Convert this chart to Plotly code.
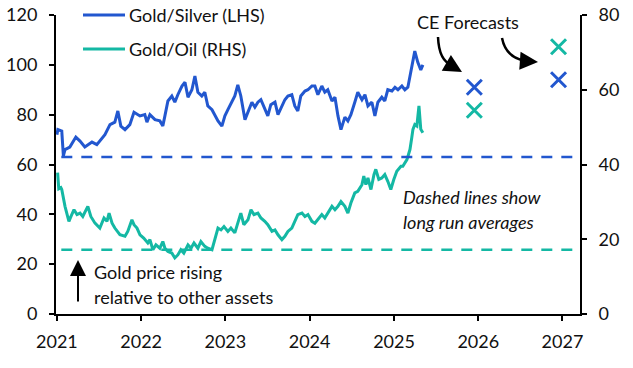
import plotly.graph_objects as go

# ---------------- data ----------------
GS_DATES = [
    "2021-01-01", "2021-01-05", "2021-01-22", "2021-01-29", "2021-02-05", "2021-02-26",
    "2021-03-24", "2021-04-11", "2021-05-02", "2021-05-15", "2021-06-02", "2021-06-23",
    "2021-07-06", "2021-07-28", "2021-08-19", "2021-09-09", "2021-09-22", "2021-10-05",
    "2021-10-23", "2021-11-13", "2021-12-01", "2021-12-27", "2022-01-17", "2022-01-26",
    "2022-02-08", "2022-03-02", "2022-03-23", "2022-04-05", "2022-04-14", "2022-04-27",
    "2022-05-14", "2022-05-27", "2022-06-09", "2022-06-27", "2022-07-10", "2022-07-23",
    "2022-08-09", "2022-08-22", "2022-09-04", "2022-09-21", "2022-10-04", "2022-10-17",
    "2022-11-04", "2022-11-17", "2022-11-30", "2022-12-17", "2022-12-30", "2023-01-12",
    "2023-01-29", "2023-02-11", "2023-02-24", "2023-03-09", "2023-03-27", "2023-04-09",
    "2023-04-26", "2023-05-09", "2023-05-22", "2023-06-04", "2023-06-21", "2023-07-04",
    "2023-07-17", "2023-08-04", "2023-08-17", "2023-09-03", "2023-09-16", "2023-09-29",
    "2023-10-16", "2023-10-29", "2023-11-11", "2023-11-24", "2023-12-12", "2023-12-25",
    "2024-01-11", "2024-01-24", "2024-02-06", "2024-02-23", "2024-03-07", "2024-03-20",
    "2024-04-07", "2024-04-20", "2024-05-03", "2024-05-16", "2024-06-02", "2024-06-15",
    "2024-06-28", "2024-07-15", "2024-07-28", "2024-08-15", "2024-08-28", "2024-09-10",
    "2024-09-27", "2024-10-10", "2024-10-23", "2024-11-09", "2024-11-22", "2024-12-05",
    "2024-12-23", "2025-01-05", "2025-01-18", "2025-02-04", "2025-02-17", "2025-03-02",
    "2025-03-15", "2025-03-24", "2025-04-01", "2025-04-14", "2025-04-27", "2025-05-06",
]
GS_VALUES = [
    72.0, 74.0, 73.4, 63.5, 66.0, 67.0,
    71.0, 69.4, 67.0, 68.0, 69.0, 68.0,
    69.4, 72.0, 76.0, 77.0, 81.5, 75.4,
    74.0, 76.0, 81.0, 79.5, 80.0, 77.0,
    80.0, 78.0, 77.5, 75.5, 79.5, 85.5,
    87.5, 85.0, 88.0, 91.5, 93.0, 87.0,
    90.0, 95.5, 89.0, 87.5, 89.0, 83.5,
    82.0, 79.5, 77.5, 75.4, 79.5, 82.0,
    85.5, 87.5, 92.0, 87.5, 78.0, 81.0,
    85.0, 83.0, 85.0, 86.0, 82.0, 79.5,
    84.0, 85.0, 80.0, 83.5, 86.0, 87.5,
    88.0, 83.5, 81.5, 87.5, 89.5, 90.0,
    91.5, 91.5, 88.0, 91.5, 89.0, 90.0,
    85.5, 87.0, 79.5, 74.0, 79.0, 77.5,
    80.0, 85.0, 89.0, 86.0, 88.0, 83.5,
    85.0, 79.5, 85.0, 87.0, 85.5, 90.0,
    89.5, 91.0, 90.0, 91.5, 90.0, 91.0,
    97.0, 101.0, 105.5, 101.0, 98.0, 100.0,
]

GO_DATES = [
    "2021-01-04", "2021-01-09", "2021-01-18", "2021-01-22", "2021-02-05", "2021-02-13",
    "2021-02-22", "2021-03-03", "2021-03-16", "2021-03-29", "2021-04-11", "2021-04-23",
    "2021-05-15", "2021-05-28", "2021-06-15", "2021-07-06", "2021-07-24", "2021-08-06",
    "2021-08-15", "2021-08-28", "2021-09-09", "2021-10-01", "2021-10-23", "2021-11-04",
    "2021-11-22", "2021-12-01", "2021-12-14", "2021-12-27", "2022-01-12", "2022-01-30",
    "2022-02-08", "2022-02-21", "2022-03-06", "2022-03-23", "2022-04-05", "2022-04-14",
    "2022-04-27", "2022-05-14", "2022-05-27", "2022-06-09", "2022-06-22", "2022-07-05",
    "2022-07-23", "2022-08-05", "2022-08-18", "2022-09-04", "2022-09-17", "2022-10-04",
    "2022-10-17", "2022-11-04", "2022-11-17", "2022-11-30", "2022-12-13", "2022-12-26",
    "2023-01-12", "2023-01-25", "2023-02-11", "2023-02-24", "2023-03-09", "2023-03-22",
    "2023-04-09", "2023-04-22", "2023-05-05", "2023-05-22", "2023-06-04", "2023-06-21",
    "2023-07-04", "2023-07-22", "2023-08-04", "2023-08-17", "2023-09-03", "2023-09-16",
    "2023-09-29", "2023-10-16", "2023-10-29", "2023-11-11", "2023-11-29", "2023-12-12",
    "2023-12-25", "2024-01-11", "2024-01-24", "2024-02-06", "2024-02-23", "2024-03-07",
    "2024-03-20", "2024-04-07", "2024-04-20", "2024-05-03", "2024-05-16", "2024-06-02",
    "2024-06-15", "2024-06-28", "2024-07-15", "2024-07-28", "2024-08-15", "2024-08-23",
    "2024-09-01", "2024-09-10", "2024-09-23", "2024-10-06", "2024-10-14", "2024-10-27",
    "2024-11-09", "2024-11-22", "2024-12-05", "2024-12-18", "2024-12-31", "2025-01-13",
    "2025-01-31", "2025-02-08", "2025-02-26", "2025-03-11", "2025-03-19", "2025-03-24",
    "2025-04-01", "2025-04-10", "2025-04-19", "2025-04-27", "2025-05-06",
]
GO_VALUES = [
    37.8, 33.5, 33.8, 33.3, 28.8, 27.0,
    24.8, 26.1, 27.9, 26.6, 27.0, 26.1,
    28.8, 26.1, 24.3, 23.0, 25.7, 24.8,
    27.0, 24.3, 23.0, 21.2, 20.8, 22.1,
    25.2, 23.9, 23.0, 21.2, 20.3, 19.0,
    19.9, 17.2, 18.5, 17.6, 19.4, 17.6,
    16.7, 16.3, 15.0, 15.8, 17.2, 16.3,
    18.5, 17.6, 19.0, 17.6, 19.4, 18.1,
    17.6, 17.2, 19.9, 23.0, 22.5, 23.4,
    22.1, 23.0, 21.7, 24.3, 27.0, 23.9,
    25.2, 27.9, 26.6, 27.0, 25.7, 24.8,
    23.9, 22.1, 22.5, 21.2, 19.9, 20.8,
    22.1, 23.0, 24.8, 26.6, 27.0, 26.1,
    26.6, 24.8, 24.3, 25.2, 26.6, 25.7,
    27.0, 28.8, 27.9, 28.8, 30.1, 28.8,
    27.0, 29.7, 32.4, 32.8, 34.6, 36.9,
    34.6, 36.4, 33.3, 37.3, 38.7, 36.0,
    36.4, 37.3, 35.5, 33.3, 36.0, 38.2,
    39.5, 39.5, 41.3, 44.0, 47.2, 49.4,
    50.7, 50.3, 55.7, 49.4, 48.5,
]

FC_DATES = ["2025-12-15", "2026-12-15"]
GS_FORECAST = [91.0, 94.0]
GO_FORECAST = [54.5, 71.5]

GS_LONG_RUN_AVG = 63.0
GO_LONG_RUN_AVG = 17.2
AVG_START = "2021-01-20"

YEAR_TICKS = ["2021-01-01", "2022-01-01", "2023-01-01", "2024-01-01",
              "2025-01-01", "2026-01-01", "2027-01-01"]
YEAR_LABELS = ["2021", "2022", "2023", "2024", "2025", "2026", "2027"]
LEFT_TICKS = [0, 20, 40, 60, 80, 100, 120]
RIGHT_TICKS = [0, 20, 40, 60, 80]

# ---------------- styling ----------------
BLUE = "#2257CF"
TEAL = "#14B8A4"
INK = "#111111"
FONT = "Lato"
FS = 18
W, H = 633, 368
# plot area in page pixels
PL, PR, PT, PB = 56, 580, 15, 314
L, T, R, B = PL, PT, W - PR, H - PB
X_RANGE = ["2020-12-28", "2027-03-18"]


def P(px, py):
    """page pixel position -> paper coordinates"""
    return (px - PL) / (PR - PL), (PB - py) / (PB - PT)


fig = go.Figure()
fig.add_trace(go.Scatter(x=GS_DATES, y=GS_VALUES, name="Gold/Silver (LHS)", mode="lines",
                         line=dict(color=BLUE, width=3), yaxis="y"))
fig.add_trace(go.Scatter(x=GO_DATES, y=GO_VALUES, name="Gold/Oil (RHS)", mode="lines",
                         line=dict(color=TEAL, width=3), yaxis="y2"))
fig.add_trace(go.Scatter(x=FC_DATES, y=GS_FORECAST, name="Gold/Silver forecast", mode="markers",
                         marker=dict(symbol="x-thin", size=15, line=dict(color=BLUE, width=3)),
                         yaxis="y", showlegend=False))
fig.add_trace(go.Scatter(x=FC_DATES, y=GO_FORECAST, name="Gold/Oil forecast", mode="markers",
                         marker=dict(symbol="x-thin", size=15, line=dict(color=TEAL, width=3)),
                         yaxis="y2", showlegend=False))

shapes = [
    dict(type="line", xref="x", yref="y", x0=AVG_START, x1=X_RANGE[1],
         y0=GS_LONG_RUN_AVG, y1=GS_LONG_RUN_AVG, line=dict(color=BLUE, width=2.5, dash="11px,9px")),
    dict(type="line", xref="x", yref="y2", x0=AVG_START, x1=X_RANGE[1],
         y0=GO_LONG_RUN_AVG, y1=GO_LONG_RUN_AVG, line=dict(color=TEAL, width=2.5, dash="11px,9px")),
]

# manual legend
for py, col in [(15, BLUE), (49, TEAL)]:
    x0, y0 = P(83, py)
    x1, _ = P(125, py)
    shapes.append(dict(type="line", xref="paper", yref="paper", x0=x0, x1=x1, y0=y0, y1=y0,
                       line=dict(color=col, width=3)))


def curve(p0, c, p1):
    a, b, d = P(*p0), P(*c), P(*p1)
    return f"M {a[0]},{a[1]} Q {b[0]},{b[1]} {d[0]},{d[1]}"


shapes.append(dict(type="path", xref="paper", yref="paper",
                   path=curve((438, 37), (439, 61), (452, 65)), line=dict(color="black", width=2.5)))
shapes.append(dict(type="path", xref="paper", yref="paper",
                   path=curve((502, 38), (506, 58), (526, 61)), line=dict(color="black", width=2.5)))

annotations = []


def text(s, px, py, anchor="left"):
    x, y = P(px, py)
    annotations.append(dict(text=s, x=x, y=y, xref="paper", yref="paper", xanchor=anchor,
                            yanchor="middle", showarrow=False,
                            font=dict(family=FONT, size=FS, color=INK)))


text("Gold/Silver (LHS)", 127, 15)
text("Gold/Oil (RHS)", 127, 49)
text("CE Forecasts", 468, 22, "center")
text("<i>Dashed lines show</i>", 401, 197)
text("<i>long run averages</i>", 401, 222)
text("Gold price rising", 92, 272)
text("relative to other assets", 92, 297)


def head(px, py, ax, ay, width=2.5, size=1.1):
    x, y = P(px, py)
    annotations.append(dict(text="", x=x, y=y, xref="paper", yref="paper", showarrow=True,
                            ax=ax, ay=ay, arrowhead=2, arrowsize=size, arrowwidth=width,
                            arrowcolor="black"))


head(462, 72, -12, -7, size=1.45)
head(538, 62, -14, -1, size=1.45)
head(78, 260, 0, 43, width=2, size=1.6)

axis_common = dict(showline=True, linecolor="black", linewidth=2, ticks="outside",
                   ticklen=5, tickwidth=2, tickcolor="black", showgrid=False, zeroline=False,
                   automargin=False, ticklabeloverflow="allow",
                   tickfont=dict(family=FONT, size=FS, color=INK))

fig.update_layout(
    width=W, height=H,
    margin=dict(l=L, r=R, t=T, b=B),
    paper_bgcolor="white", plot_bgcolor="white",
    showlegend=False,
    xaxis=dict(type="date", range=X_RANGE, tickvals=YEAR_TICKS, ticktext=YEAR_LABELS,
               ticklabelstandoff=5, **axis_common),
    yaxis=dict(range=[0, 120], tickvals=LEFT_TICKS, ticklabelstandoff=8, **axis_common),
    yaxis2=dict(range=[0, 80], tickvals=RIGHT_TICKS, overlaying="y", side="right",
                ticklabelstandoff=8, **axis_common),
    shapes=shapes,
    annotations=annotations,
)

# remove the browser's default page margin so the figure sits at the window origin
fig.write_html("out.html", config={"displayModeBar": False, "staticPlot": True},
               post_script="document.body.style.margin='0';")
